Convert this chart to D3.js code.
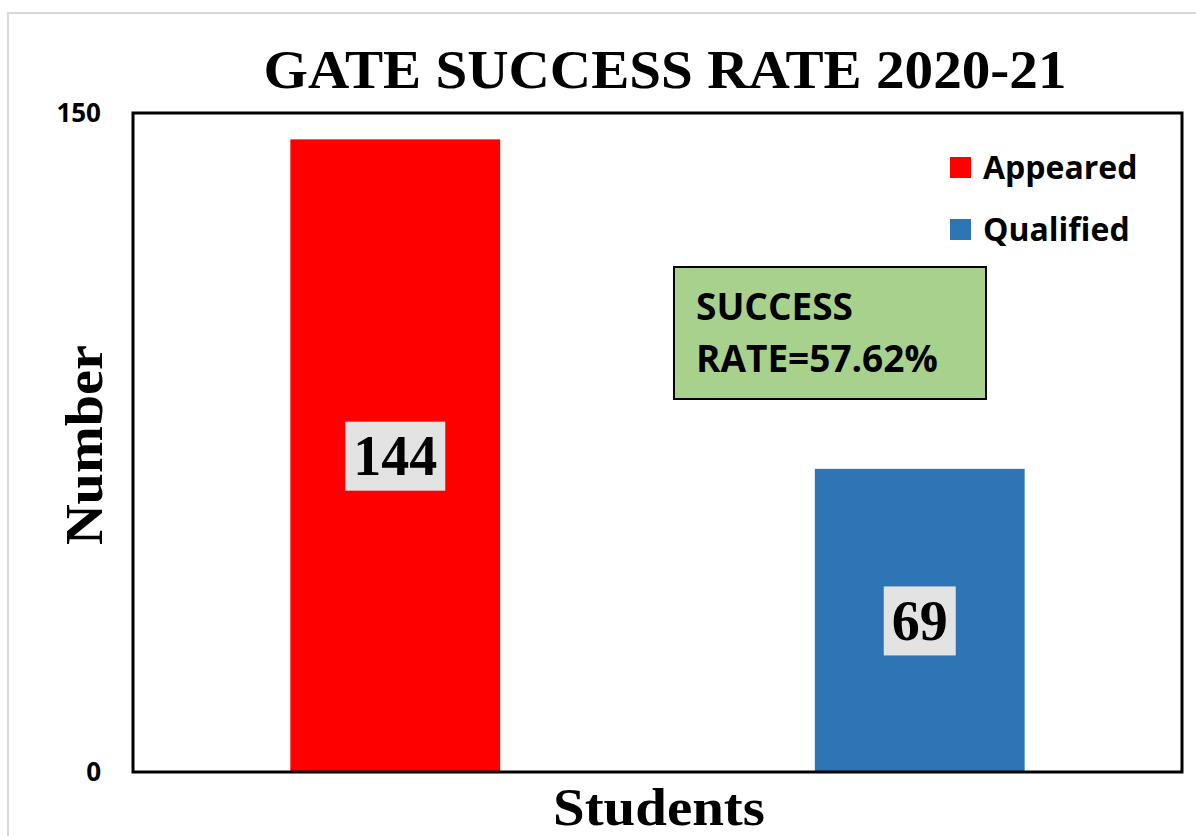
<!DOCTYPE html>
<html>
<head>
<meta charset="utf-8">
<script src="https://cdn.jsdelivr.net/npm/d3@7"></script>
<style>
	body { margin: 0; background: #fff; }
</style>
</head>
<body>
<div id="chart"></div>
<script>
// 数据
const seriesNames = ['Appeared', 'Qualified'];
const seriesValues = [144, 69];
const seriesColors = ['#ff0000', '#2e75b6'];
const yTicks = [0, 150];
const category = 'Students';
const noteLines = ['SUCCESS', 'RATE=57.62%'];

const width = 1196, height = 836;
const margin = { left: 133, right: 14, top: 113, bottom: 64 };
const serif = '"Liberation Serif", "Times New Roman", serif';
const sans = '"Open Sans", "Noto Sans", sans-serif';

const svg = d3.select('#chart')
	.append('svg')
	.attr('width', width)
	.attr('height', height);

//	外框
svg.append('rect')
	.attr('x', 8).attr('y', 13)
	.attr('width', width).attr('height', height)
	.style('fill', 'none')
	.attr('stroke', '#d9d9d9')
	.style('stroke-width', 2);

const x = d3.scaleBand()
	.domain(seriesNames)
	.range([margin.left, width - margin.right])
	.paddingInner(0.6)
	.paddingOuter(0.3);

const y = d3.scaleLinear()
	.domain([0, 150])
	.range([height - margin.bottom, margin.top]);

//	柱子
svg.selectAll('rect.bar')
	.data(seriesNames)
	.enter()
	.append('rect')
	.attr('class', 'bar')
	.attr('x', d => x(d))
	.attr('y', (d, i) => y(seriesValues[i]))
	.attr('width', x.bandwidth())
	.attr('height', (d, i) => y(0) - y(seriesValues[i]))
	.style('fill', (d, i) => seriesColors[i]);

//	绘图区边框
svg.append('rect')
	.attr('x', margin.left)
	.attr('y', margin.top)
	.attr('width', width - margin.right - margin.left)
	.attr('height', y(0) - margin.top)
	.style('fill', 'none')
	.attr('stroke', '#000')
	.style('stroke-width', 3);

//	y轴
const yAxis = svg.append('g')
	.attr('transform', 'translate(' + margin.left + ',0)')
	.call(d3.axisLeft(y).tickValues(yTicks).tickSize(0).tickPadding(32));
yAxis.select('.domain').remove();
yAxis.selectAll('text')
	.style('font-family', sans)
	.style('font-weight', 'bold')
	.style('font-size', '26px')
	.attr('fill', '#000');

//	数值标签
const labels = svg.selectAll('g.lbl')
	.data(seriesNames)
	.enter()
	.append('g')
	.attr('class', 'lbl')
	.attr('transform', (d, i) => 'translate(' + (x(d) + x.bandwidth() / 2) + ',' + (y(seriesValues[i] / 2)) + ')');
labels.append('text')
	.attr('text-anchor', 'middle')
	.attr('dy', '0.35em')
	.style('font-family', serif)
	.style('font-weight', 'bold')
	.style('font-size', '56px')
	.text((d, i) => seriesValues[i]);
labels.each(function (){
	const g = d3.select(this);
	const b = g.select('text').node().getBBox();
	g.insert('rect', 'text')
		.attr('x', b.x - 8)
		.attr('y', -34)
		.attr('width', b.width + 16)
		.attr('height', 69)
		.style('fill', '#e3e3e3');
});

//	标题
svg.append('text')
	.attr('x', 665).attr('y', 88)
	.attr('text-anchor', 'middle')
	.attr('textLength', 803)
	.attr('lengthAdjust', 'spacingAndGlyphs')
	.style('font-family', serif)
	.style('font-weight', 'bold')
	.style('font-size', '54px')
	.text('GATE SUCCESS RATE 2020-21');

//	坐标轴标题
svg.append('text')
	.attr('x', 659).attr('y', 825)
	.attr('text-anchor', 'middle')
	.attr('textLength', 212)
	.attr('lengthAdjust', 'spacingAndGlyphs')
	.style('font-family', serif)
	.style('font-weight', 'bold')
	.style('font-size', '52px')
	.text(category);

svg.append('text')
	.attr('transform', 'translate(102,445) rotate(-90)')
	.attr('text-anchor', 'middle')
	.attr('textLength', 200)
	.attr('lengthAdjust', 'spacingAndGlyphs')
	.style('font-family', serif)
	.style('font-weight', 'bold')
	.style('font-size', '52px')
	.text('Number');

//	图例
const legend = svg.selectAll('g.legend')
	.data(seriesNames)
	.enter()
	.append('g')
	.attr('class', 'legend')
	.attr('transform', (d, i) => 'translate(950,' + (157 + i * 62) + ')');
legend.append('rect')
	.attr('width', 21).attr('height', 21)
	.style('fill', (d, i) => seriesColors[i]);
legend.append('text')
	.attr('x', 33).attr('y', 22)
	.style('font-family', sans)
	.style('font-weight', 'bold')
	.style('font-size', '32px')
	.text(d => d);

//	成功率注释框
const note = svg.append('g').attr('transform', 'translate(674,267)');
note.append('rect')
	.attr('width', 312).attr('height', 132)
	.style('fill', '#a9d18e')
	.attr('stroke', '#000')
	.style('stroke-width', 2);
note.selectAll('text')
	.data(noteLines)
	.enter()
	.append('text')
	.attr('x', 22)
	.attr('y', (d, i) => 53 + i * 52)
	.style('font-family', sans)
	.style('font-weight', 'bold')
	.style('font-size', '37px')
	.text(d => d);
</script>
</body>
</html>
